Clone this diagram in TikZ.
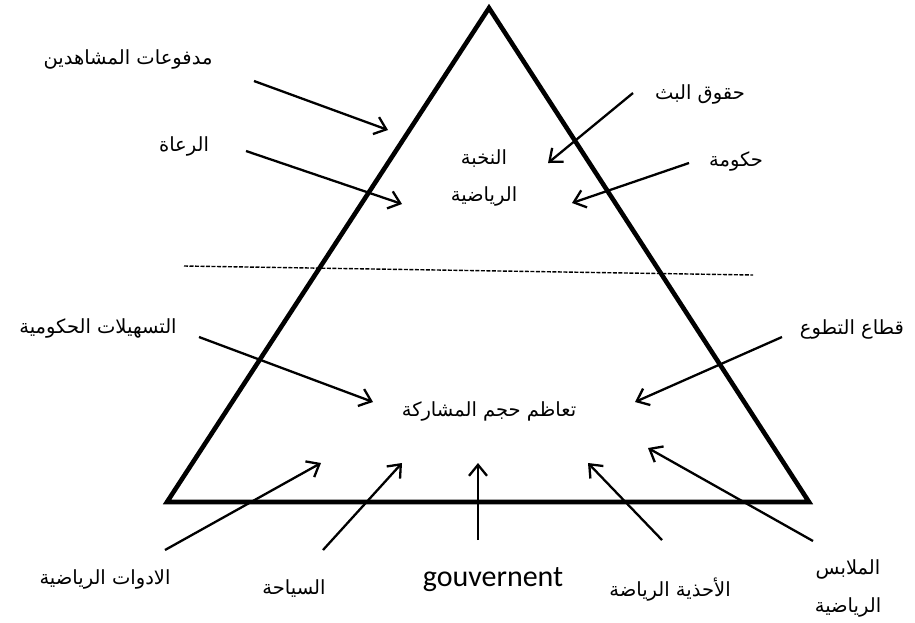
\documentclass[tikz,border=0pt]{standalone}
\usepackage{fontspec}
\setmainfont{Carlito}
\newfontfamily\arabicfont[Script=Arabic]{DejaVu Sans}
\TeXXeTstate=1
\usetikzlibrary{arrows.meta}
\begin{document}
\begin{tikzpicture}[x=1pt,y=-1pt,
  ar/.style={font=\arabicfont\fontsize{19.5}{24}\selectfont, inner sep=0pt},
  lat/.style={font=\fontsize{30}{34}\selectfont, inner sep=0pt},
  arr/.style={line width=2.3pt, -{Straight Barb[length=11pt,width=18pt,line width=2.3pt]}},
  tri/.style={line width=4.6pt, line join=miter},
  sep/.style={line width=1.4pt, dash pattern=on 4pt off 1.5pt},
]
\useasboundingbox (0,0) rectangle (915,622);
% triangle
\coordinate (apex) at (489,8);
\coordinate (bl) at (167,502);
\coordinate (br) at (809,502);
\draw[tri] (apex) -- (bl) -- (br) -- cycle;
% separator
\coordinate (d1) at (184,266);
\coordinate (d2) at (753,275);
\draw[sep] (d1) -- (d2);
% texts
\node[ar] (t1) at (128,59) {\beginR مدفوعات المشاهدين\endR};
\node[ar] (t2) at (184,146) {\beginR الرعاة\endR};
\node[ar] (t3) at (700,94) {\beginR حقوق البث\endR};
\node[ar] (t4) at (736,161) {\beginR حكومة\endR};
\node[ar] (e1) at (484,159) {\beginR النخبة\endR};
\node[ar] (e2) at (484,196) {\beginR الرياضية\endR};
\node[ar] (t5) at (98,328) {\beginR التسهيلات الحكومية\endR};
\node[ar] (t6) at (852,329) {\beginR قطاع التطوع\endR};
\node[ar] (m) at (489,411) {\beginR تعاظم حجم المشاركة\endR};
\node[ar] (b1) at (105,579) {\beginR الادوات الرياضية\endR};
\node[ar] (b2) at (294,589) {\beginR السياحة\endR};
\node[lat] (b3) at (493,580) {gouvernent};
\node[ar] (b4) at (670,590) {\beginR الأحذية الرياضة\endR};
\node[ar] (b5a) at (848,569) {\beginR الملابس\endR};
\node[ar] (b5b) at (848,607) {\beginR الرياضية\endR};
% arrow ends
\coordinate (s1) at (254,81);  \coordinate (e1a) at (388,130);
\coordinate (s2) at (246,151); \coordinate (e2a) at (402,204);
\coordinate (s3) at (633,93);  \coordinate (e3a) at (548,163);
\coordinate (s4) at (689,163); \coordinate (e4a) at (572,203);
\coordinate (s5) at (199,337); \coordinate (e5a) at (373,402);
\coordinate (s6) at (782,337); \coordinate (e6a) at (635,402);
\coordinate (s7) at (165,550); \coordinate (e7a) at (321,463);
\coordinate (s8) at (323,550); \coordinate (e8a) at (402,463);
\coordinate (s9) at (478,540); \coordinate (e9a) at (478,463);
\coordinate (s10) at (662,540); \coordinate (e10a) at (588,463);
\coordinate (s11) at (813,541); \coordinate (e11a) at (648,448);
\foreach \i in {1,...,11} {\draw[arr] (s\i) -- (e\i a);}
\end{tikzpicture}
\end{document}
